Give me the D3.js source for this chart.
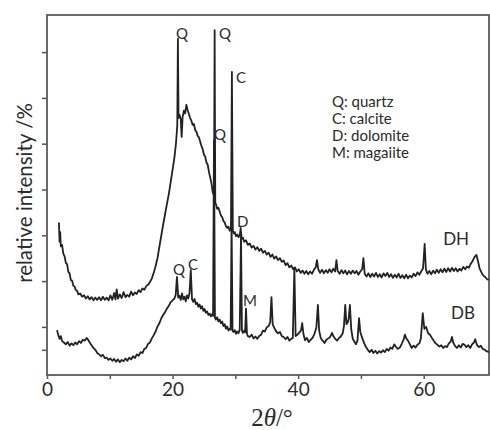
<!DOCTYPE html>
<html>
<head>
<meta charset="utf-8">
<script src="https://cdn.jsdelivr.net/npm/d3@7"></script>
<style>
  body { margin: 0; background: #fff; }
  text { font-family: Lato, "Open Sans", sans-serif; fill: #2b2b2b; }
</style>
</head>
<body>
<div id="chart"></div>
<script>
// x ticks (2theta, degrees) and unlabeled y ticks (relative intensity)
var xTicks = [0, 10, 20, 30, 40, 50, 60];
var xTickLabels = ["0", "", "20", "", "40", "", "60"];
var yTicks = [5, 10, 20, 30, 40, 50, 60, 70];

var legendItems = ["Q: quartz", "C: calcite", "D: dolomite", "M: magaiite"];
var seriesNames = ["DH", "DB"];

// DH trace [2theta, intensity]
var dhData = [[1.9,32.8],[2.0,28.6],[2.1,30.7],[2.2,27.6],[2.4,27.9],[2.6,26.0],[2.8,25.4],[3.0,24.0],[3.2,23.7],[3.4,22.0],[3.6,21.7],[3.8,20.2],[4.0,20.1],[4.2,19.0],[4.4,18.8],[4.6,18.0],[4.8,17.9],[5.0,17.1],[5.3,17.3],[5.6,16.6],[5.9,16.9],[6.2,16.2],[6.5,16.7],[6.8,16.0],[7.1,16.5],[7.4,15.8],[7.7,16.4],[8.0,15.9],[8.3,16.5],[8.6,15.8],[8.9,16.6],[9.2,15.9],[9.5,16.4],[9.8,15.8],[10.1,16.9],[10.4,15.9],[10.7,17.4],[10.9,16.0],[11.1,18.2],[11.3,16.2],[11.6,17.1],[11.9,16.3],[12.2,17.6],[12.5,16.5],[12.8,17.0],[13.1,16.6],[13.4,17.7],[13.7,16.9],[14.0,17.5],[14.3,17.2],[14.6,18.0],[14.9,17.6],[15.2,18.4],[15.5,18.1],[15.8,18.9],[16.1,19.2],[16.4,19.8],[16.7,20.6],[17.0,21.8],[17.3,23.3],[17.6,25.0],[17.9,27.5],[18.2,29.9],[18.5,32.3],[18.8,34.6],[19.1,36.8],[19.4,39.0],[19.7,41.6],[20.0,44.3],[20.3,47.0],[20.55,50.2],[20.75,54.0],[20.85,72.9],[20.95,55.6],[21.1,56.3],[21.3,55.4],[21.45,51.5],[21.6,55.8],[21.8,57.2],[22.0,56.6],[22.2,58.5],[22.4,57.3],[22.6,56.5],[22.8,55.6],[23.0,55.0],[23.2,54.1],[23.4,54.3],[23.6,53.0],[23.8,52.6],[24.0,51.7],[24.2,51.4],[24.4,50.4],[24.6,49.5],[24.8,48.8],[25.0,47.6],[25.2,47.2],[25.4,45.9],[25.6,45.4],[25.8,43.8],[26.0,42.6],[26.2,41.3],[26.4,39.4],[26.6,38.6],[26.7,74.8],[26.8,37.2],[26.95,36.6],[27.1,35.8],[27.3,36.0],[27.5,35.2],[27.7,34.3],[27.9,34.0],[28.1,33.1],[28.3,32.8],[28.5,32.0],[28.7,31.6],[28.9,31.9],[29.1,31.0],[29.3,31.3],[29.45,65.7],[29.6,30.9],[29.75,30.4],[29.9,30.7],[30.1,29.8],[30.3,30.2],[30.5,29.6],[30.7,30.0],[30.85,31.6],[31.0,29.2],[31.2,29.5],[31.4,28.6],[31.7,28.9],[32.0,27.9],[32.3,28.2],[32.6,27.3],[32.9,27.7],[33.2,26.9],[33.5,27.4],[33.8,26.6],[34.1,27.1],[34.4,26.2],[34.7,26.6],[35.0,25.8],[35.3,26.2],[35.6,25.3],[35.9,25.8],[36.2,24.9],[36.5,25.4],[36.8,24.6],[37.1,25.0],[37.4,24.2],[37.7,24.5],[38.0,23.5],[38.3,23.9],[38.6,23.0],[38.9,23.4],[39.2,22.6],[39.5,23.0],[39.8,22.1],[40.1,22.6],[40.4,21.8],[40.7,22.3],[41.0,21.6],[41.3,22.2],[41.6,21.5],[41.9,22.1],[42.2,21.6],[42.5,22.4],[42.8,23.0],[43.0,24.6],[43.2,22.6],[43.5,21.8],[43.8,22.5],[44.1,21.7],[44.4,22.4],[44.7,21.8],[45.0,22.6],[45.3,21.9],[45.6,22.7],[45.9,22.1],[46.1,24.6],[46.3,22.2],[46.6,21.6],[46.9,22.4],[47.2,21.7],[47.5,22.3],[47.8,21.5],[48.1,22.2],[48.4,21.6],[48.7,22.3],[49.0,21.7],[49.3,22.2],[49.6,21.4],[49.9,22.1],[50.2,22.6],[50.4,25.0],[50.6,21.6],[50.9,21.0],[51.2,21.7],[51.5,20.9],[51.8,21.6],[52.1,21.0],[52.4,21.8],[52.7,20.9],[53.0,21.5],[53.3,20.8],[53.6,21.7],[53.9,21.1],[54.2,21.8],[54.5,20.9],[54.8,21.5],[55.1,20.7],[55.4,21.4],[55.7,20.8],[56.0,21.6],[56.3,20.7],[56.6,21.3],[56.9,20.6],[57.2,21.4],[57.5,20.6],[57.8,21.2],[58.1,20.8],[58.4,21.6],[58.7,21.1],[59.0,21.9],[59.3,21.4],[59.6,22.1],[59.9,22.8],[60.15,28.1],[60.35,22.5],[60.6,21.6],[60.9,22.2],[61.2,21.5],[61.5,22.3],[61.8,21.7],[62.1,22.5],[62.4,21.8],[62.7,22.6],[63.0,21.9],[63.3,22.7],[63.6,22.0],[63.9,22.8],[64.2,22.1],[64.5,22.9],[64.8,22.2],[65.1,22.8],[65.4,22.1],[65.7,22.7],[66.0,22.3],[66.3,23.1],[66.6,22.6],[66.9,23.2],[67.2,22.9],[67.5,23.8],[67.8,24.4],[68.1,25.3],[68.4,25.7],[68.6,24.6],[68.9,22.8],[69.2,21.9],[69.5,21.2],[69.8,20.9],[70.1,20.4],[70.4,20.3]];

// DB trace [2theta, intensity]
var dbData = [[1.6,9.3],[1.8,8.2],[2.0,7.4],[2.2,8.0],[2.4,6.9],[2.7,6.6],[3.0,6.2],[3.3,6.7],[3.6,5.9],[3.9,6.4],[4.2,6.0],[4.5,6.6],[4.8,6.2],[5.1,6.9],[5.4,6.5],[5.7,7.2],[6.0,7.0],[6.3,7.6],[6.5,7.3],[6.8,6.6],[7.1,6.0],[7.4,5.4],[7.7,5.0],[8.0,4.3],[8.3,4.0],[8.6,3.6],[8.9,3.9],[9.2,3.2],[9.5,3.3],[9.8,2.8],[10.1,3.1],[10.4,2.6],[10.7,3.0],[11.0,2.4],[11.3,2.9],[11.6,2.3],[11.9,2.8],[12.2,2.5],[12.5,3.1],[12.8,2.6],[13.1,3.3],[13.4,2.9],[13.7,3.6],[14.0,3.2],[14.3,4.0],[14.6,3.7],[14.9,4.5],[15.2,4.3],[15.5,5.2],[15.8,5.4],[16.1,6.3],[16.4,6.6],[16.7,7.5],[17.0,8.2],[17.3,9.0],[17.6,10.1],[17.9,10.8],[18.2,11.9],[18.5,12.6],[18.8,13.2],[19.1,14.0],[19.4,14.6],[19.7,15.4],[20.0,15.8],[20.3,16.2],[20.5,17.0],[20.7,20.9],[20.9,16.4],[21.1,16.8],[21.3,15.9],[21.5,17.3],[21.7,16.0],[21.9,16.6],[22.1,15.6],[22.3,16.9],[22.5,16.2],[22.7,17.4],[22.9,22.4],[23.1,16.0],[23.3,15.5],[23.5,16.1],[23.7,15.0],[23.9,15.3],[24.1,14.4],[24.3,14.9],[24.5,14.0],[24.7,14.5],[24.9,13.5],[25.1,13.9],[25.3,13.1],[25.5,13.4],[25.7,12.6],[25.9,12.9],[26.1,12.3],[26.3,12.8],[26.45,12.4],[26.6,50.8],[26.75,12.0],[26.9,11.6],[27.1,12.1],[27.3,11.2],[27.5,11.6],[27.7,10.8],[27.9,11.2],[28.1,10.2],[28.3,10.6],[28.5,9.6],[28.7,10.1],[28.9,9.2],[29.1,9.6],[29.25,9.4],[29.4,32.5],[29.55,9.1],[29.7,8.9],[29.9,9.3],[30.1,8.5],[30.3,9.0],[30.5,8.6],[30.7,9.4],[30.9,30.0],[31.05,9.2],[31.2,8.7],[31.4,9.2],[31.55,8.8],[31.7,14.0],[31.85,8.5],[32.0,8.0],[32.3,7.8],[32.6,8.3],[32.9,7.5],[33.2,7.9],[33.5,7.4],[33.8,8.0],[34.1,8.3],[34.4,9.2],[34.7,9.0],[35.0,9.9],[35.3,10.2],[35.55,11.0],[35.75,16.5],[35.95,10.5],[36.2,9.8],[36.5,9.0],[36.8,8.6],[37.1,8.9],[37.4,8.0],[37.7,7.8],[38.0,7.3],[38.3,7.8],[38.6,7.0],[38.9,7.4],[39.15,7.6],[39.4,22.9],[39.6,8.0],[39.9,8.3],[40.2,8.8],[40.45,9.2],[40.65,10.8],[40.85,8.4],[41.1,7.1],[41.4,7.6],[41.7,6.7],[42.0,7.2],[42.3,7.6],[42.6,8.5],[42.9,9.8],[43.15,14.8],[43.35,9.2],[43.6,7.6],[43.9,7.0],[44.2,6.5],[44.5,7.2],[44.8,7.5],[45.1,7.8],[45.4,8.7],[45.6,8.0],[45.9,7.4],[46.2,7.0],[46.5,7.6],[46.8,7.9],[47.1,8.6],[47.3,10.2],[47.5,14.8],[47.7,10.6],[47.9,11.0],[48.05,11.8],[48.25,14.8],[48.45,9.6],[48.7,7.4],[48.95,6.8],[49.2,6.2],[49.45,7.0],[49.7,11.9],[49.9,8.9],[50.2,7.6],[50.5,6.5],[50.8,5.6],[51.1,5.0],[51.4,4.5],[51.7,5.0],[52.0,4.3],[52.3,4.8],[52.6,4.2],[52.9,4.7],[53.2,4.4],[53.5,4.9],[53.8,4.5],[54.1,5.2],[54.4,4.8],[54.7,5.5],[55.0,5.2],[55.3,6.2],[55.6,5.6],[55.9,5.2],[56.2,5.5],[56.5,6.3],[56.8,7.2],[57.0,8.3],[57.2,7.6],[57.5,7.0],[57.8,6.2],[58.1,5.4],[58.4,5.9],[58.7,5.5],[59.0,6.1],[59.3,6.4],[59.55,7.5],[59.85,13.0],[60.1,9.6],[60.4,10.0],[60.7,8.6],[61.0,8.3],[61.3,7.6],[61.6,7.0],[61.9,6.4],[62.2,6.1],[62.5,5.7],[62.8,6.0],[63.1,5.4],[63.4,5.8],[63.7,5.6],[64.0,6.4],[64.3,6.8],[64.5,7.8],[64.7,6.6],[65.0,5.8],[65.3,5.4],[65.6,6.0],[65.9,5.5],[66.2,6.3],[66.5,6.1],[66.8,5.6],[67.1,6.0],[67.4,5.4],[67.7,6.2],[68.0,6.6],[68.2,7.3],[68.5,6.0],[68.8,5.6],[69.1,5.9],[69.4,5.2],[69.7,5.0],[70.0,4.7],[70.4,4.5]];

// phase labels over the peaks: [text, 2theta, intensity]
var peakLabels = [["Q", 20.55, 72.9], ["Q", 27.4, 72.9], ["C", 30.1, 63.3], ["Q", 26.6, 50.8],
                  ["D", 30.26, 31.8], ["Q", 20.07, 21.3], ["C", 22.46, 22.4], ["M", 31.2, 14.6]];
var seriesLabelPos = [[63.1, 27.9], [64.35, 11.7]];

var W = 490, H = 430;
var margin = {left: 47, right: 1, top: 15, bottom: 55};
var width = W - margin.left - margin.right,
    height = H - margin.top - margin.bottom;

var svg = d3.select("#chart").append("svg")
    .attr("width", W)
    .attr("height", H);

var canvas = svg.append("g")
    .attr("transform", "translate(" + margin.left + "," + margin.top + ")");

var x = d3.scaleLinear().domain([0, 70.4]).range([0, width]);
var y = d3.scaleLinear().domain([-0.5, 78.1]).range([height, 0]);

canvas.append("clipPath").attr("id", "clip")
  .append("rect").attr("width", width).attr("height", height);

// axes
var xAxisCall = d3.axisBottom(x)
    .tickValues(xTicks)
    .tickSize(4)
    .tickPadding(4)
    .tickFormat(function(d, i){ return xTickLabels[i]; });
var xAxis = canvas.append("g")
    .attr("transform", "translate(0," + height + ")")
    .call(xAxisCall);
xAxis.select(".domain").remove();
xAxis.selectAll("line").attr("stroke", "#555").attr("stroke-width", 1.5);
xAxis.selectAll("text")
    .style("font-family", "Lato, sans-serif")
    .style("font-size", "19px")
    .attr("fill", "#333");

var yAxisCall = d3.axisLeft(y)
    .tickValues(yTicks)
    .tickSize(5)
    .tickFormat("");
var yAxis = canvas.append("g").call(yAxisCall);
yAxis.select(".domain").remove();
yAxis.selectAll("line").attr("stroke", "#555").attr("stroke-width", 1.5);

// frame
canvas.append("rect")
    .attr("width", width)
    .attr("height", height)
    .attr("fill", "none")
    .attr("stroke", "#5a5a5a")
    .attr("stroke-width", 1.8);

// traces
var line = d3.line()
    .x(function(d){ return x(d[0]); })
    .y(function(d){ return y(d[1]); });

[dhData, dbData].forEach(function(series){
  canvas.append("path")
      .datum(series)
      .attr("clip-path", "url(#clip)")
      .attr("fill", "none")
      .attr("stroke", "#222")
      .attr("stroke-width", 1.8)
      .attr("stroke-linejoin", "round")
      .attr("d", line);
});

// peak labels
canvas.selectAll(".peak")
    .data(peakLabels)
  .enter().append("text")
    .attr("class", "peak")
    .attr("x", function(d){ return x(d[1]); })
    .attr("y", function(d){ return y(d[2]); })
    .style("font-size", "15px")
    .text(function(d){ return d[0]; });

// series names
canvas.selectAll(".sname")
    .data(seriesNames)
  .enter().append("text")
    .attr("class", "sname")
    .attr("x", function(d, i){ return x(seriesLabelPos[i][0]); })
    .attr("y", function(d, i){ return y(seriesLabelPos[i][1]); })
    .style("font-size", "17px")
    .text(function(d){ return d; });

// legend
var legend = canvas.append("g")
    .attr("transform", "translate(" + (332 - margin.left) + "," + (107 - margin.top) + ")");
legendItems.forEach(function(item, i){
  legend.append("text")
      .attr("y", i * 17)
      .style("font-size", "15px")
      .text(item);
});

// y label
svg.append("text")
    .attr("transform", "translate(32," + 193 + ") rotate(-90)")
    .attr("text-anchor", "middle")
    .style("font-size", "20.5px")
    .text("relative intensity /%");

// x label
var xl = svg.append("text")
    .attr("x", 272)
    .attr("y", 426)
    .attr("text-anchor", "middle")
    .style("font-family", "'Liberation Serif', serif")
    .style("font-size", "25px");
xl.append("tspan").text("2");
xl.append("tspan").style("font-style", "italic").text("θ");
xl.append("tspan").text("/°");
</script>
</body>
</html>
